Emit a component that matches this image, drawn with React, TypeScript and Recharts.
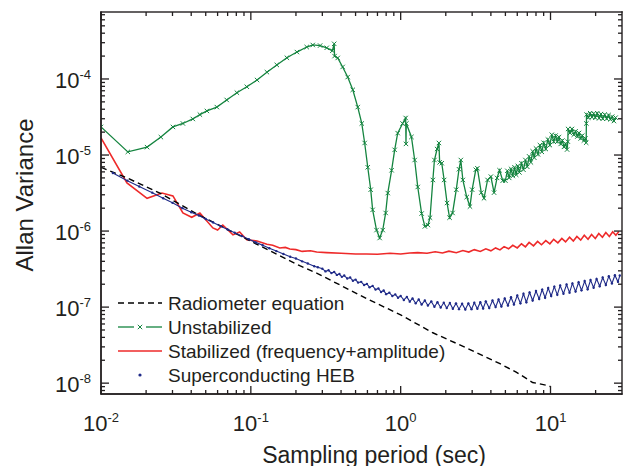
import { ComposedChart, Line, Scatter, XAxis, YAxis } from "recharts";

// [sampling period (s), Allan variance]
const radiometer: [number, number][] = [
  [0.01, 6.9e-6], [0.0149, 5.0e-6], [0.0247, 3.16e-6], [0.0457, 1.6e-6],
  [0.102, 7.2e-7], [0.212, 3.5e-7], [0.275, 2.8e-7], [0.59, 1.3e-7],
  [1.0, 7.9e-8], [1.64, 4.6e-8], [2.76, 2.9e-8], [4.6, 1.8e-8],
  [5.9, 1.4e-8], [7.6, 1.02e-8], [9.6, 9.3e-9], [10, 9.0e-9],
];

const unstabilized: [number, number][] = [
  [0.01, 2.34e-5], [0.0151, 1.1e-5], [0.0203, 1.27e-5], [0.0251, 1.72e-5],
  [0.0302, 2.34e-5], [0.0352, 2.6e-5], [0.041, 2.98e-5], [0.0457, 3.4e-5],
  [0.0509, 3.8e-5], [0.0593, 4.27e-5], [0.069, 5.3e-5], [0.0807, 6.6e-5],
  [0.094, 7.9e-5], [0.11, 9.7e-5], [0.128, 1.23e-4], [0.149, 1.53e-4],
  [0.174, 1.9e-4], [0.203, 2.26e-4], [0.236, 2.63e-4], [0.259, 2.8e-4],
  [0.29, 2.75e-4], [0.321, 2.57e-4], [0.35, 2.35e-4], [0.36, 2.9e-4],
  [0.362, 2.0e-4], [0.38, 1.89e-4], [0.41, 1.44e-4], [0.443, 1.06e-4],
  [0.479, 7.2e-5], [0.517, 4.27e-5], [0.55, 2.6e-5], [0.575, 1.44e-5],
  [0.603, 6.9e-6], [0.631, 3.5e-6], [0.65, 1.9e-6], [0.69, 1.03e-6],
  [0.724, 8.1e-7], [0.759, 1.03e-6], [0.794, 1.73e-6], [0.82, 3.16e-6],
  [0.87, 6.3e-6], [0.912, 1.17e-5], [0.955, 1.94e-5], [1.03, 2.6e-5],
  [1.08, 3.07e-5], [1.085, 1.4e-5], [1.09, 2.6e-5], [1.18, 1.73e-5],
  [1.24, 8.6e-6], [1.3, 3.8e-6], [1.38, 1.7e-6], [1.45, 1.15e-6],
  [1.52, 1.2e-6], [1.57, 1.5e-6], [1.64, 4.7e-6], [1.68, 8.6e-6],
  [1.75, 1.2e-5], [1.8, 1.44e-5], [1.82, 8.0e-6], [1.88, 7.8e-6],
  [1.95, 4.7e-6], [2.04, 2.34e-6], [2.12, 1.5e-6], [2.22, 1.73e-6],
  [2.35, 3.5e-6], [2.45, 6.5e-6], [2.52, 8.6e-6], [2.6, 4.7e-6],
  [2.76, 2.8e-6], [2.9, 2.1e-6], [3.0, 3.5e-6], [3.17, 6.4e-6],
  [3.25, 6.7e-6], [3.45, 3.2e-6], [3.6, 2.7e-6], [3.8, 4.7e-6],
  [4.0, 5.2e-6], [4.2, 3.2e-6], [4.4, 5.0e-6], [4.57, 6.3e-6],
  [4.8, 4.6e-6], [5.0, 4.6e-6], [5.15, 6.2e-6], [5.3, 5.0e-6],
  [5.45, 6.6e-6], [5.6, 5.3e-6], [5.75, 6.9e-6], [5.9, 5.5e-6],
  [6.05, 7.2e-6], [6.2, 5.9e-6], [6.4, 7.8e-6], [6.6, 6.4e-6],
  [6.8, 8.6e-6], [7.0, 7.0e-6], [7.2, 9.6e-6], [7.4, 8.0e-6],
  [7.6, 1.12e-5], [7.8, 9.2e-6], [8.0, 1.22e-5], [8.25, 1.02e-5],
  [8.5, 1.35e-5], [8.75, 1.1e-5], [9.0, 1.45e-5], [9.3, 1.2e-5],
  [9.6, 1.6e-5], [9.9, 1.35e-5], [10.2, 1.85e-5], [10.5, 1.5e-5],
  [10.8, 1.8e-5], [11.1, 1.5e-5], [11.4, 1.72e-5], [11.7, 1.4e-5],
  [12.0, 1.55e-5], [12.3, 1.28e-5], [12.6, 1.4e-5], [12.9, 1.18e-5],
  [13.05, 1.5e-5], [13.1, 2.2e-5], [13.5, 1.95e-5], [13.9, 2.2e-5],
  [14.3, 1.85e-5], [14.7, 2.05e-5], [15.1, 1.75e-5], [15.5, 1.95e-5],
  [15.9, 1.65e-5], [16.3, 1.8e-5], [16.7, 1.55e-5], [17.1, 1.65e-5],
  [17.3, 1.45e-5], [17.35, 2.6e-5], [17.4, 3.4e-5], [17.9, 3.1e-5],
  [18.4, 3.55e-5], [18.9, 3.15e-5], [19.4, 3.5e-5], [19.9, 3.1e-5],
  [20.5, 3.55e-5], [21.1, 3.05e-5], [21.7, 3.45e-5], [22.3, 3.0e-5],
  [23.0, 3.4e-5], [23.7, 3.0e-5], [24.4, 3.35e-5], [25.1, 2.95e-5],
  [25.8, 3.2e-5], [26.5, 2.8e-5], [27.2, 3.1e-5],
];

const stabilized: [number, number][] = [
  [0.01, 1.68e-5], [0.0149, 4.3e-6], [0.0203, 2.7e-6], [0.0255, 3.16e-6],
  [0.0302, 2.9e-6], [0.0352, 1.73e-6], [0.0403, 1.52e-6], [0.0457, 1.73e-6],
  [0.0558, 1.1e-6], [0.06, 1.03e-6], [0.065, 1.2e-6], [0.076, 8.9e-7],
  [0.0842, 9.7e-7], [0.094, 7.7e-7], [0.11, 7.4e-7], [0.128, 6.7e-7],
  [0.14, 6.5e-7], [0.156, 6.0e-7], [0.17, 6.1e-7], [0.182, 5.8e-7],
  [0.2, 5.7e-7], [0.22, 5.4e-7], [0.25, 5.5e-7], [0.275, 5.3e-7],
  [0.32, 5.2e-7], [0.4, 5.1e-7], [0.5, 5.0e-7], [0.59, 5.0e-7],
  [0.7, 4.95e-7], [0.85, 5.1e-7], [1.0, 5.0e-7], [1.15, 5.15e-7],
  [1.3, 5.2e-7], [1.5, 5.1e-7], [1.7, 5.35e-7], [1.9, 5.15e-7],
  [2.1, 5.45e-7], [2.35, 5.2e-7], [2.6, 5.55e-7], [2.85, 5.3e-7],
  [3.1, 5.7e-7], [3.4, 5.4e-7], [3.7, 5.85e-7], [4.0, 5.5e-7],
  [4.3, 6.0e-7], [4.6, 5.65e-7], [4.9, 6.25e-7], [5.25, 5.85e-7],
  [5.6, 6.5e-7], [6.0, 6.0e-7], [6.4, 6.8e-7], [6.8, 6.2e-7],
  [7.2, 7.1e-7], [7.7, 6.4e-7], [8.2, 7.3e-7], [8.7, 6.6e-7],
  [9.3, 7.5e-7], [9.9, 6.8e-7], [10.5, 7.8e-7], [11.2, 7.0e-7],
  [11.9, 8.0e-7], [12.6, 7.2e-7], [13.4, 8.3e-7], [14.2, 7.4e-7],
  [15.0, 8.5e-7], [15.9, 7.6e-7], [16.8, 8.8e-7], [17.8, 7.8e-7],
  [18.8, 9.0e-7], [19.9, 8.0e-7], [21.0, 9.3e-7], [22.2, 8.3e-7],
  [23.4, 9.6e-7], [24.7, 8.5e-7], [26.0, 9.8e-7], [27.3, 8.8e-7],
  [28.6, 9.9e-7],
];

const heb: [number, number][] = [
  [0.012, 5.8e-6], [0.015, 4.6e-6], [0.018, 3.85e-6], [0.022, 3.2e-6],
  [0.026, 2.7e-6], [0.03, 2.35e-6], [0.035, 2.0e-6], [0.04, 1.77e-6],
  [0.045, 1.6e-6], [0.05, 1.44e-6], [0.056, 1.3e-6], [0.063, 1.16e-6],
  [0.07, 1.05e-6], [0.078, 9.5e-7], [0.087, 8.6e-7], [0.097, 7.8e-7],
  [0.108, 7.1e-7], [0.12, 6.5e-7], [0.133, 5.95e-7], [0.148, 5.45e-7],
  [0.165, 5.0e-7], [0.183, 4.6e-7], [0.2, 4.35e-7], [0.22, 4.0e-7],
  [0.24, 3.75e-7], [0.265, 3.45e-7], [0.28, 3.35e-7], [0.3, 3.2e-7],
  [0.315, 2.95e-7], [0.33, 3.05e-7], [0.345, 2.8e-7], [0.36, 2.9e-7],
  [0.375, 2.65e-7], [0.39, 2.72e-7], [0.405, 2.5e-7], [0.42, 2.6e-7],
  [0.44, 2.38e-7], [0.46, 2.45e-7], [0.48, 2.22e-7], [0.5, 2.3e-7],
  [0.52, 2.1e-7], [0.545, 2.15e-7], [0.57, 1.95e-7], [0.595, 2.02e-7],
  [0.62, 1.82e-7], [0.65, 1.9e-7], [0.68, 1.7e-7], [0.71, 1.76e-7],
  [0.74, 1.58e-7], [0.77, 1.65e-7], [0.8, 1.48e-7], [0.84, 1.55e-7],
  [0.88, 1.4e-7], [0.92, 1.47e-7], [0.96, 1.33e-7], [1.0, 1.4e-7],
  [1.05, 1.24e-7], [1.1, 1.36e-7], [1.15, 1.18e-7], [1.2, 1.3e-7],
  [1.26, 1.12e-7], [1.32, 1.26e-7], [1.38, 1.08e-7], [1.45, 1.22e-7],
  [1.52, 1.05e-7], [1.6, 1.19e-7], [1.68, 1.01e-7], [1.76, 1.16e-7],
  [1.85, 9.9e-8], [1.94, 1.14e-7], [2.03, 9.7e-8], [2.13, 1.13e-7],
  [2.23, 9.5e-8], [2.34, 1.12e-7], [2.45, 9.4e-8], [2.57, 1.11e-7],
  [2.7, 9.3e-8], [2.83, 1.12e-7], [2.97, 9.4e-8], [3.1, 1.14e-7],
  [3.25, 9.5e-8], [3.4, 1.16e-7], [3.55, 9.6e-8], [3.7, 1.19e-7],
  [3.9, 9.7e-8], [4.1, 1.22e-7], [4.3, 1.0e-7], [4.5, 1.26e-7],
  [4.7, 1.02e-7], [4.95, 1.3e-7], [5.2, 1.05e-7], [5.45, 1.35e-7],
  [5.7, 1.08e-7], [6.0, 1.42e-7], [6.3, 1.12e-7], [6.6, 1.5e-7],
  [6.9, 1.16e-7], [7.25, 1.56e-7], [7.6, 1.22e-7], [8.0, 1.63e-7],
  [8.4, 1.28e-7], [8.8, 1.7e-7], [9.2, 1.33e-7], [9.65, 1.78e-7],
  [10.1, 1.4e-7], [10.6, 1.86e-7], [11.1, 1.45e-7], [11.6, 1.92e-7],
  [12.2, 1.5e-7], [12.8, 1.98e-7], [13.4, 1.55e-7], [14.0, 2.05e-7],
  [14.7, 1.6e-7], [15.4, 2.12e-7], [16.1, 1.66e-7], [16.9, 2.2e-7],
  [17.7, 1.72e-7], [18.5, 2.27e-7], [19.4, 1.8e-7], [20.3, 2.35e-7],
  [21.3, 1.88e-7], [22.3, 2.45e-7], [23.4, 1.95e-7], [24.5, 2.55e-7],
  [25.7, 2.05e-7], [26.9, 2.62e-7], [28.2, 2.15e-7], [29.0, 2.6e-7],
];

const xDecades = [0.01, 0.1, 1, 10];
const yDecades = [1e-9, 1e-8, 1e-7, 1e-6, 1e-5, 1e-4];
const minorSteps = [2, 3, 4, 5, 6, 7, 8, 9];

const X_DOMAIN: [number, number] = [0.01, 30];
const Y_DOMAIN: [number, number] = [7.2e-9, 7.6e-4];

const xTicks = xDecades
  .flatMap((d) => [d, ...minorSteps.map((m) => m * d)])
  .filter((v) => v >= X_DOMAIN[0] && v < X_DOMAIN[1]);
const yTicks = yDecades
  .flatMap((d) => [d, ...minorSteps.map((m) => m * d)])
  .filter((v) => v > Y_DOMAIN[0] && v < Y_DOMAIN[1]);

const AXIS = "#231f20";
const GREEN = "#14843f";
const RED = "#ee2a2a";
const BLUE = "#1f2a88";
const FONT = "'Liberation Sans', Arial, Helvetica, sans-serif";

// plot box (chart margins + axis sizes below)
const MARGIN = { top: 12, right: 6, bottom: 32, left: 31 };
const Y_AXIS_W = 70;
const X_AXIS_H = 40;
const PLOT_LEFT = MARGIN.left + Y_AXIS_W;
const PLOT_TOP = MARGIN.top;
const PLOT_W = 628 - PLOT_LEFT - MARGIN.right;
const PLOT_H = 466 - PLOT_TOP - MARGIN.bottom - X_AXIS_H;

// same log mapping as the axes, for the inward tick marks and frame
const xPos = (v: number) =>
  PLOT_LEFT + (PLOT_W * Math.log10(v / X_DOMAIN[0])) / Math.log10(X_DOMAIN[1] / X_DOMAIN[0]);
const yPos = (v: number) =>
  PLOT_TOP + (PLOT_H * Math.log10(Y_DOMAIN[1] / v)) / Math.log10(Y_DOMAIN[1] / Y_DOMAIN[0]);

const rows = (pts: [number, number][]) => pts.map(([t, v]) => ({ t, v }));

const isMajor = (v: number) => Math.abs(Math.log10(v) - Math.round(Math.log10(v))) < 1e-6;
const expOf = (v: number) => Math.round(Math.log10(v));
const tickLen = (v: number) => (isMajor(v) ? 8 : 4);
const LW = 1.4;

function PowerLabel({ x, y, anchor, v }: { x: number; y: number; anchor: string; v: number }) {
  return (
    <text x={x} y={y} textAnchor={anchor} fontSize={22} fill={AXIS} stroke="none" fontFamily={FONT}>
      10
      <tspan dy={-9} fontSize={13}>
        {expOf(v)}
      </tspan>
    </text>
  );
}

function BottomLabel({ x, y, payload }: any) {
  if (!isMajor(payload.value)) return <g />;
  return <PowerLabel x={Number(x)} y={Number(y) + 37} anchor="middle" v={payload.value} />;
}

function LeftLabel({ x, y, payload }: any) {
  if (!isMajor(payload.value)) return <g />;
  return <PowerLabel x={Number(x) - 10} y={Number(y) + 9} anchor="end" v={payload.value} />;
}

function XMark({ cx, cy, index }: any) {
  if (cx == null || cy == null) return <g key={index} />;
  const s = 2.2;
  return (
    <path
      key={index}
      d={`M${cx - s},${cy - s}L${cx + s},${cy + s}M${cx - s},${cy + s}L${cx + s},${cy - s}`}
      stroke={GREEN}
      strokeWidth={1}
      fill="none"
    />
  );
}

function Dot({ cx, cy }: any) {
  return <circle cx={cx} cy={cy} r={1.2} fill={BLUE} />;
}

const legendItems = [
  { name: "Radiometer equation", kind: "dash" },
  { name: "Unstabilized", kind: "cross" },
  { name: "Stabilized (frequency+amplitude)", kind: "solid" },
  { name: "Superconducting HEB", kind: "dot" },
];

// frame, inward ticks, legend and axis titles drawn on top of the chart
function Overlay() {
  const right = PLOT_LEFT + PLOT_W;
  const bottom = PLOT_TOP + PLOT_H;
  return (
    <svg
      width={628}
      height={466}
      style={{ position: "absolute", left: 0, top: 0, pointerEvents: "none" }}
    >
      {/* frame edges and ticks as thin filled rects */}
      <rect x={PLOT_LEFT - LW / 2} y={PLOT_TOP - LW / 2} width={PLOT_W + LW} height={LW} fill={AXIS} />
      <rect x={right - LW / 2} y={PLOT_TOP - LW / 2} width={LW} height={PLOT_H + LW} fill={AXIS} />
      <rect x={PLOT_LEFT - LW / 2} y={PLOT_TOP - LW / 2} width={LW} height={PLOT_H + LW} fill={AXIS} />
      <rect x={PLOT_LEFT - LW / 2} y={bottom - LW / 2} width={PLOT_W + LW} height={LW} fill={AXIS} />
      {xTicks.map((v) => (
        <g key={`x${v}`}>
          <rect x={xPos(v) - 0.65} y={bottom - tickLen(v)} width={1.3} height={tickLen(v)} fill={AXIS} />
          <rect x={xPos(v) - 0.65} y={PLOT_TOP} width={1.3} height={tickLen(v)} fill={AXIS} />
        </g>
      ))}
      {yTicks.map((v) => (
        <g key={`y${v}`}>
          <rect x={PLOT_LEFT} y={yPos(v) - 0.65} width={tickLen(v)} height={1.3} fill={AXIS} />
          <rect x={right - tickLen(v)} y={yPos(v) - 0.65} width={tickLen(v)} height={1.3} fill={AXIS} />
        </g>
      ))}
      {legendItems.map((item, i) => {
        const y = 303 + i * 24;
        return (
          <g key={item.name}>
            {item.kind === "dash" && (
              <line x1={118} x2={162} y1={y} y2={y} stroke="#000" strokeWidth={1.3} strokeDasharray="6 4" />
            )}
            {item.kind === "cross" && (
              <g>
                <line x1={118} x2={134} y1={y} y2={y} stroke={GREEN} strokeWidth={1.3} />
                <line x1={146} x2={162} y1={y} y2={y} stroke={GREEN} strokeWidth={1.3} />
                <XMark cx={140} cy={y} index={0} />
              </g>
            )}
            {item.kind === "solid" && (
              <line x1={118} x2={162} y1={y} y2={y} stroke={RED} strokeWidth={1.3} />
            )}
            {item.kind === "dot" && <circle cx={140} cy={y} r={1.6} fill={BLUE} />}
            <text x={168} y={y + 7} fontSize={19} fill={AXIS} fontFamily={FONT}>
              {item.name}
            </text>
          </g>
        );
      })}
      <text x={374} y={463} textAnchor="middle" fontSize={23} fill={AXIS} fontFamily={FONT}>
        Sampling period (sec)
      </text>
      <text
        x={33}
        y={195}
        transform="rotate(-90 33 195)"
        textAnchor="middle"
        fontSize={24}
        fill={AXIS}
        fontFamily={FONT}
      >
        Allan Variance
      </text>
    </svg>
  );
}

export default function App() {
  return (
    <div style={{ position: "absolute", left: 0, top: 0, width: 628, height: 466, background: "#fff" }}>
      <ComposedChart width={628} height={466} margin={MARGIN}>
        <XAxis
          xAxisId="b"
          dataKey="t"
          type="number"
          scale="log"
          domain={X_DOMAIN}
          allowDataOverflow
          ticks={xTicks}
          interval={0}
          tickSize={0}
          tickMargin={0}
          tickLine={false}
          tick={BottomLabel}
          axisLine={{ stroke: AXIS, strokeWidth: 1.4 }}
          height={X_AXIS_H}
        />
        <YAxis
          yAxisId="l"
          dataKey="v"
          type="number"
          scale="log"
          domain={Y_DOMAIN}
          allowDataOverflow
          ticks={yTicks}
          interval={0}
          tickSize={0}
          tickMargin={0}
          tickLine={false}
          tick={LeftLabel}
          axisLine={{ stroke: AXIS, strokeWidth: 1.4 }}
          width={Y_AXIS_W}
        />
        <Line
          xAxisId="b"
          yAxisId="l"
          data={rows(unstabilized)}
          dataKey="v"
          type="linear"
          stroke={GREEN}
          strokeWidth={1.3}
          dot={XMark}
          isAnimationActive={false}
        />
        <Line
          xAxisId="b"
          yAxisId="l"
          data={rows(stabilized)}
          dataKey="v"
          type="linear"
          stroke={RED}
          strokeWidth={1.6}
          dot={false}
          isAnimationActive={false}
        />
        <Scatter
          xAxisId="b"
          yAxisId="l"
          data={rows(heb)}
          dataKey="v"
          fill={BLUE}
          line={{ stroke: BLUE, strokeWidth: 1.1 }}
          shape={<Dot />}
          isAnimationActive={false}
        />
        <Line
          xAxisId="b"
          yAxisId="l"
          data={rows(radiometer)}
          dataKey="v"
          type="linear"
          stroke="#000"
          strokeWidth={1.4}
          strokeDasharray="6 4"
          dot={false}
          isAnimationActive={false}
        />
      </ComposedChart>
      <Overlay />
    </div>
  );
}
